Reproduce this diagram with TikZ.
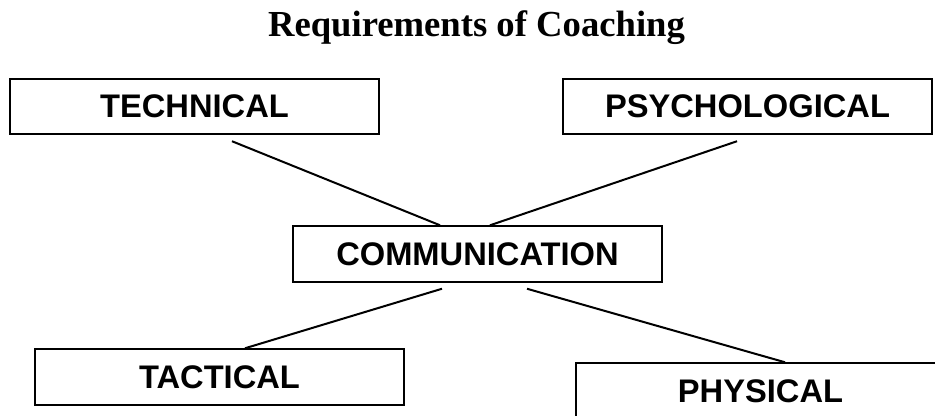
\documentclass[tikz,border=0pt]{standalone}
\usepackage{fontspec}
\setmainfont{Liberation Serif}
\newfontfamily\boxfont{Liberation Sans}
\usetikzlibrary{calc}
\tikzset{every picture/.style={line width=0.75pt}}
\tikzset{
  reqbox/.style={draw, line width=1.6pt, minimum width=276.75pt, minimum height=41.5pt, inner sep=0pt, font=\boxfont\bfseries\fontsize{24.5}{28}\selectfont},
  link/.style={line width=1.5pt}
}

\begin{document}
\begin{tikzpicture}[x=0.75pt,y=0.75pt,yscale=-1,xscale=1]
\useasboundingbox (0,0) rectangle (935,415);

% Title
\node (title) [anchor=base, font=\bfseries\fontsize{27.5}{32}\selectfont] at (476.5,36) {Requirements of Coaching};

%Boxes
\node (tech) [reqbox] at (194.5,106.5) {TECHNICAL};
\node (psych) [reqbox] at (747.5,106.5) {PSYCHOLOGICAL};
\node (comm) [reqbox] at (477.5,254) {COMMUNICATION};
\node (tact) [reqbox] at (219.5,377) {TACTICAL};
\node (phys) [reqbox] at (760.5,391) {PHYSICAL};

%Straight Lines
\draw [link] ($(tech.south)+(37.5,6)$) -- ($(comm.north)+(-37.5,0)$) ;
\draw [link] ($(psych.south)+(-10.5,6)$) -- ($(comm.north)+(12.5,0)$) ;
\draw [link] ($(comm.south)+(-35.5,6)$) -- ($(tact.north)+(25.5,0)$) ;
\draw [link] ($(comm.south)+(49.5,6)$) -- ($(phys.north)+(24.5,0)$) ;

\end{tikzpicture}
\end{document}
